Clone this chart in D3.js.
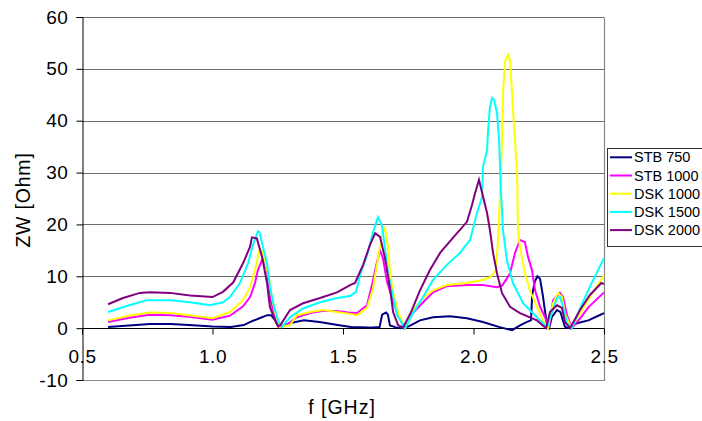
<!DOCTYPE html>
<html>
<head>
<meta charset="utf-8">
<script src="https://cdn.jsdelivr.net/npm/d3@7"></script>
<style>
  html, body { margin: 0; padding: 0; background: #fff; }
  svg { display: block; font-family: "Liberation Sans", Arial, sans-serif; }
</style>
</head>
<body>
<svg id="chart" width="702" height="421"></svg>
<script>
// ---- data (f in GHz, ZW in Ohm) ----
const seriesNames = ["STB 750", "STB 1000", "DSK 1000", "DSK 1500", "DSK 2000"];
const seriesColors = ["#000080", "#FF00FF", "#FFFF00", "#00FFFF", "#800080"];
const xTicks = [0.5, 1.0, 1.5, 2.0, 2.5];
const yTicks = [-10, 0, 10, 20, 30, 40, 50, 60];

const stb750 = [[0.6,0.2],[0.68,0.5],[0.76,0.8],[0.84,0.8],[0.91,0.6],[1.0,0.3],[1.07,0.2],[1.12,0.6],[1.145,1.2],[1.18,1.9],[1.21,2.5],[1.225,2.5],[1.24,1.5],[1.255,0.1],[1.27,0.5],[1.30,1.0],[1.35,1.5],[1.41,1.2],[1.48,0.6],[1.53,0.2],[1.6,0.1],[1.64,0.2],[1.65,2.6],[1.665,3.0],[1.672,2.6],[1.68,0.5],[1.70,0.2],[1.72,0.0],[1.75,0.3],[1.795,1.5],[1.845,2.1],[1.91,2.3],[1.975,1.9],[2.036,1.2],[2.10,0.2],[2.148,-0.4],[2.18,0.6],[2.205,1.2],[2.22,1.5],[2.225,6.5],[2.235,9.0],[2.245,10.0],[2.255,9.5],[2.266,6.2],[2.274,3.3],[2.282,0.5],[2.29,0.0],[2.30,2.1],[2.32,3.5],[2.333,3.1],[2.35,0.3],[2.36,0.0],[2.40,1.0],[2.44,1.5],[2.47,2.2],[2.5,2.9]];

const stb1000 = [[0.6,1.2],[0.68,2.0],[0.76,2.6],[0.84,2.5],[0.91,2.2],[1.0,1.6],[1.067,2.4],[1.117,4.2],[1.144,6.0],[1.163,8.7],[1.174,11.2],[1.193,13.5],[1.209,11.2],[1.22,6.0],[1.232,3.5],[1.255,0.2],[1.28,0.5],[1.324,2.1],[1.374,2.9],[1.42,3.3],[1.477,3.3],[1.52,3.0],[1.554,2.9],[1.592,4.4],[1.611,8.3],[1.63,12.7],[1.642,15.0],[1.653,13.5],[1.669,8.9],[1.688,5.8],[1.707,3.1],[1.734,0.0],[1.768,2.9],[1.807,5.0],[1.845,6.9],[1.898,8.1],[1.975,8.3],[2.036,8.3],[2.09,7.9],[2.11,8.2],[2.128,9.6],[2.14,10.6],[2.159,14.5],[2.178,17.0],[2.197,16.6],[2.209,13.7],[2.224,11.2],[2.236,7.3],[2.255,4.1],[2.274,2.1],[2.289,0.0],[2.305,5.4],[2.331,6.8],[2.343,6.0],[2.358,2.5],[2.377,0.0],[2.41,2.0],[2.44,4.0],[2.5,6.9]];

const dsk1000 = [[0.6,1.5],[0.68,2.4],[0.76,3.0],[0.84,2.9],[0.91,2.5],[1.0,1.9],[1.067,3.1],[1.117,5.4],[1.144,7.9],[1.163,11.2],[1.182,15.4],[1.193,14.5],[1.213,10.6],[1.228,6.0],[1.24,2.9],[1.259,0.2],[1.297,0.6],[1.324,2.5],[1.374,3.1],[1.423,3.5],[1.477,3.1],[1.52,2.8],[1.554,2.5],[1.592,3.9],[1.615,7.7],[1.63,12.2],[1.649,18.0],[1.661,19.3],[1.672,16.0],[1.68,10.8],[1.692,6.9],[1.711,3.1],[1.738,0.0],[1.768,3.5],[1.807,5.8],[1.845,7.3],[1.898,8.3],[1.975,8.7],[2.036,9.3],[2.063,9.8],[2.086,11.2],[2.094,17.0],[2.102,26.0],[2.109,36.0],[2.113,45.0],[2.121,51.5],[2.132,52.7],[2.14,51.7],[2.151,42.6],[2.159,36.3],[2.167,29.9],[2.17,19.5],[2.178,15.6],[2.197,10.6],[2.216,7.3],[2.243,4.1],[2.266,1.5],[2.285,0.0],[2.305,4.8],[2.324,6.8],[2.339,6.0],[2.35,2.9],[2.374,0.0],[2.41,3.0],[2.446,6.0],[2.5,10.2]];

const dsk1500 = [[0.6,3.1],[0.68,4.4],[0.75,5.4],[0.84,5.4],[0.914,5.0],[0.99,4.4],[1.04,5.0],[1.067,6.0],[1.105,8.7],[1.136,12.5],[1.155,16.0],[1.174,18.7],[1.18,18.5],[1.193,15.7],[1.209,12.5],[1.22,8.0],[1.236,4.1],[1.251,1.5],[1.266,0.2],[1.297,2.1],[1.347,3.8],[1.412,5.0],[1.477,5.8],[1.527,6.2],[1.55,7.0],[1.565,10.2],[1.592,14.0],[1.615,18.5],[1.634,21.4],[1.649,19.9],[1.661,15.4],[1.672,10.8],[1.688,6.9],[1.707,2.5],[1.738,0.0],[1.768,2.9],[1.807,6.0],[1.845,9.3],[1.898,12.2],[1.948,14.5],[1.987,17.0],[2.013,22.2],[2.033,25.3],[2.036,31.0],[2.052,34.3],[2.056,38.2],[2.063,42.6],[2.071,44.4],[2.079,44.0],[2.09,41.5],[2.098,36.3],[2.105,26.6],[2.113,18.9],[2.128,13.1],[2.151,8.7],[2.19,4.8],[2.243,2.1],[2.282,0.2],[2.293,1.9],[2.32,5.8],[2.331,6.0],[2.343,4.1],[2.358,1.0],[2.377,0.0],[2.41,4.0],[2.446,8.0],[2.5,13.5]];

const dsk2000 = [[0.6,4.6],[0.657,5.8],[0.722,6.8],[0.76,6.9],[0.837,6.8],[0.914,6.3],[1.0,6.0],[1.04,7.0],[1.079,8.8],[1.117,12.5],[1.144,15.7],[1.151,17.5],[1.17,17.3],[1.19,13.7],[1.209,8.7],[1.22,4.1],[1.24,1.5],[1.251,0.4],[1.259,0.5],[1.297,3.5],[1.347,4.8],[1.412,5.8],[1.477,6.9],[1.527,8.3],[1.546,8.7],[1.577,12.2],[1.603,16.0],[1.623,18.3],[1.642,17.6],[1.661,13.5],[1.68,7.7],[1.692,3.1],[1.711,0.6],[1.73,0.1],[1.76,3.0],[1.795,7.3],[1.833,11.2],[1.872,14.5],[1.921,17.4],[1.975,20.5],[1.994,23.7],[2.006,26.0],[2.021,28.6],[2.036,25.5],[2.052,22.2],[2.063,18.9],[2.075,14.5],[2.09,10.6],[2.109,6.8],[2.14,4.1],[2.178,2.9],[2.243,1.5],[2.278,0.0],[2.293,3.1],[2.32,4.4],[2.339,3.9],[2.35,1.2],[2.37,0.0],[2.408,3.5],[2.446,6.4],[2.49,8.7],[2.5,8.5]];

const seriesData = [stb750, stb1000, dsk1000, dsk1500, dsk2000];

// ---- layout ----
const svg = d3.select("#chart");
const pLeft = 82, pRight = 604, pTop = 17, pBottom = 380;
const x = d3.scaleLinear().domain([0.5, 2.5]).range([pLeft, pRight]);
const y = d3.scaleLinear().domain([-10, 60]).range([pBottom, pTop]);

// gridlines
svg.append("g").selectAll("line").data(yTicks.filter(d => d > 0)).join("line")
  .attr("x1", pLeft).attr("x2", pRight)
  .attr("y1", d => Math.round(y(d)) + 0.5).attr("y2", d => Math.round(y(d)) + 0.5)
  .attr("stroke", "#6e6e6e").attr("stroke-width", 1.2);

// frame (right + bottom)
svg.append("path")
  .attr("d", `M${pRight + 0.5},${Math.round(y(60)) + 0.5}V${pBottom + 0.5}H${pLeft}`)
  .attr("fill", "none").attr("stroke", "#888").attr("stroke-width", 1.2);

// y axis
const yAxis = d3.axisLeft(y).tickValues(yTicks).tickSize(6).tickPadding(8).tickFormat(d => String(d));
const gy = svg.append("g").attr("transform", `translate(${pLeft + 0.5},0)`).call(yAxis);
gy.select(".domain").attr("stroke", "#000");
gy.selectAll(".tick line").attr("stroke", "#000");
gy.selectAll("text").attr("font-size", 19).attr("fill", "#000")
  .attr("font-family", "'Liberation Sans', Arial, sans-serif").attr("letter-spacing", 0.6);

// x axis at y=0
const xAxis = d3.axisBottom(x).tickValues(xTicks).tickSize(6).tickPadding(15).tickFormat(d3.format(".1f"));
const gx = svg.append("g").attr("transform", `translate(0,${Math.round(y(0)) + 0.5})`).call(xAxis);
gx.select(".domain").attr("stroke", "#000").attr("d", `M${pLeft},0H${pRight}`);
gx.selectAll(".tick line").attr("stroke", "#000");
gx.selectAll("text").attr("font-size", 19).attr("fill", "#000")
  .attr("font-family", "'Liberation Sans', Arial, sans-serif").attr("letter-spacing", 0.6);

// clip
svg.append("defs").append("clipPath").attr("id", "plotclip")
  .append("rect").attr("x", pLeft).attr("y", pTop - 5).attr("width", pRight - pLeft + 2).attr("height", pBottom - pTop + 5);

const line = d3.line().x(d => x(d[0])).y(d => y(d[1])).curve(d3.curveLinear);
svg.append("g").attr("clip-path", "url(#plotclip)")
  .selectAll("path").data(seriesData).join("path")
  .attr("d", d => line(d))
  .attr("fill", "none")
  .attr("stroke", (d, i) => seriesColors[i])
  .attr("stroke-width", 2)
  .attr("stroke-linejoin", "miter");

// axis titles
svg.append("text")
  .attr("transform", `translate(30,200) rotate(-90)`)
  .attr("text-anchor", "middle")
  .attr("font-size", 19.5).attr("letter-spacing", 0.8)
  .text("ZW [Ohm]");
svg.append("text")
  .attr("x", 342).attr("y", 414)
  .attr("text-anchor", "middle")
  .attr("font-size", 19.5).attr("letter-spacing", 1)
  .text("f [GHz]");

// legend
const lg = svg.append("g");
lg.append("rect").attr("x", 607.5).attr("y", 148.5).attr("width", 100).attr("height", 98)
  .attr("fill", "#fff").attr("stroke", "#333").attr("stroke-width", 1);
const rows = lg.selectAll("g.row").data(seriesNames).join("g")
  .attr("class", "row")
  .attr("transform", (d, i) => `translate(0,${157.3 + i * 18.2})`);
rows.append("line").attr("x1", 610).attr("x2", 632).attr("y1", 0).attr("y2", 0)
  .attr("stroke", (d, i) => seriesColors[i]).attr("stroke-width", 2);
rows.append("text").attr("x", 634).attr("y", 5).attr("font-size", 14.5)
  .text(d => d);
</script>
</body>
</html>
